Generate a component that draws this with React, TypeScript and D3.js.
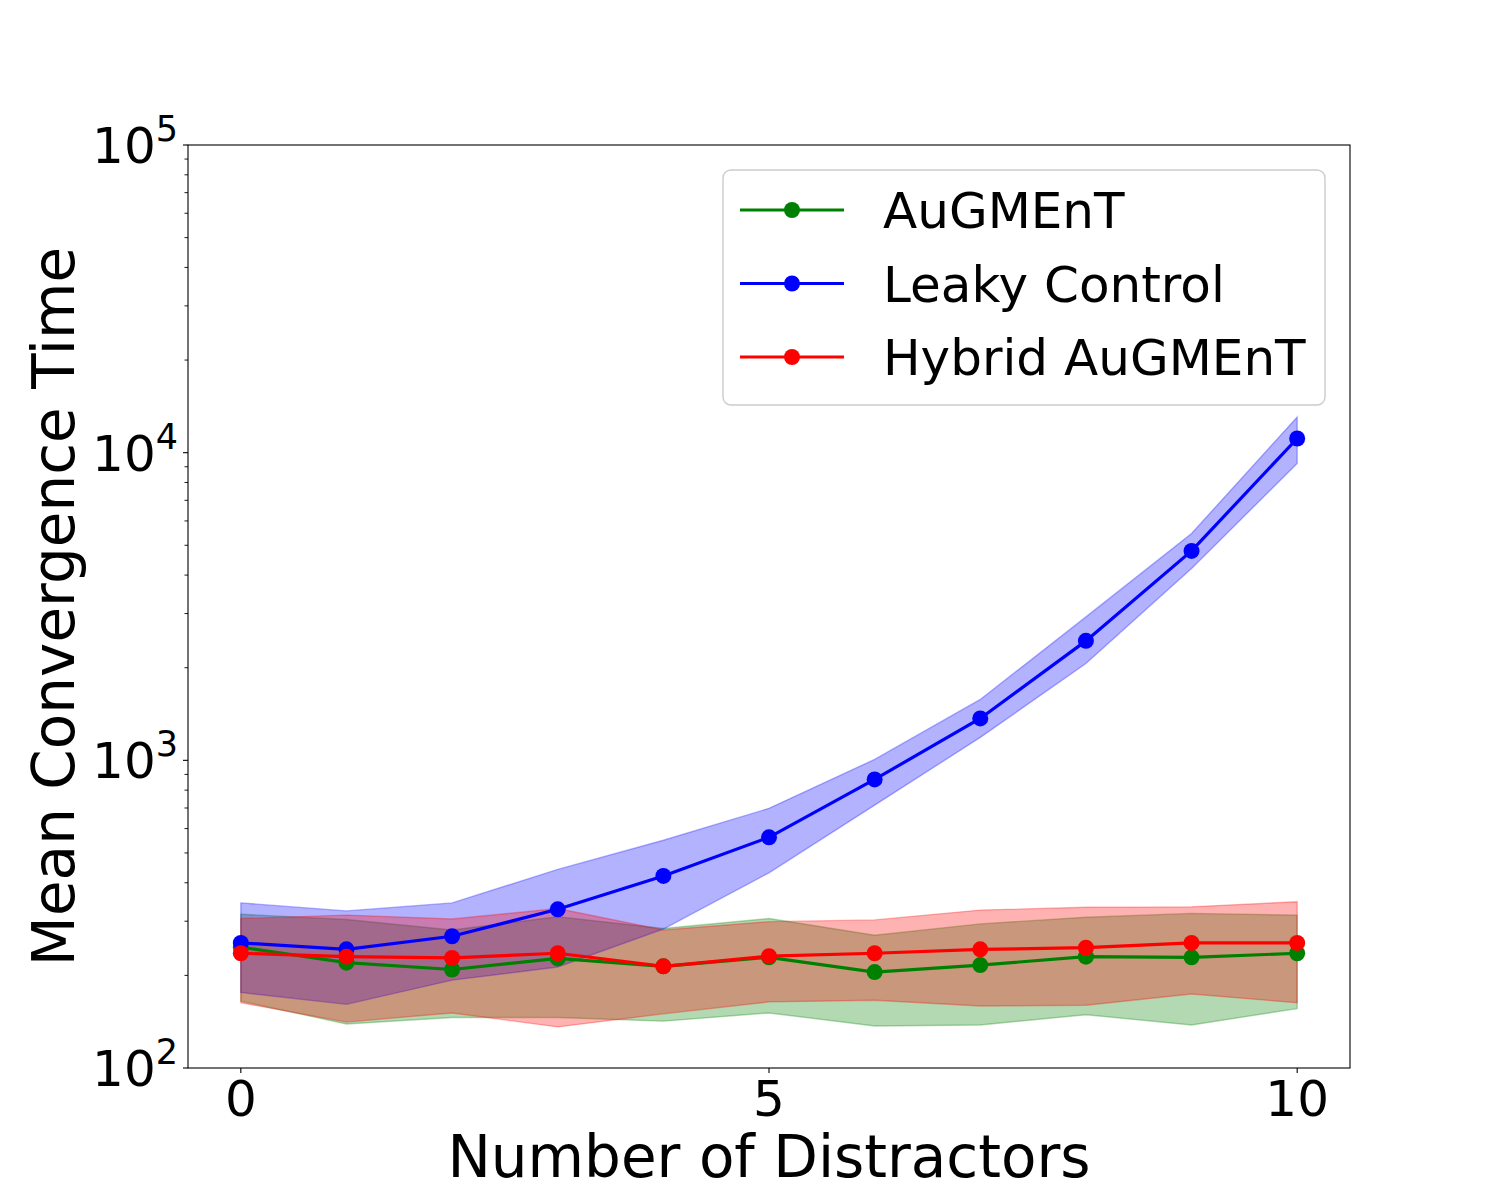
import React from "react";
import * as d3 from "d3";

// distractor counts
const distractors = [0, 1, 2, 3, 4, 5, 6, 7, 8, 9, 10];

// AuGMEnT
const augment = [247, 220, 209, 227, 214, 229, 205, 216, 230, 229, 236];
const augmentLow = [165, 139, 146, 146, 142, 151, 137, 138, 149, 138, 156];
const augmentHigh = [316, 304, 281, 310, 284, 306, 270, 294, 309, 318, 314];

// Leaky Control
const leaky = [255, 243, 268, 328, 421, 562, 867, 1368, 2445, 4795, 11120];
const leakyLow = [176, 161, 193, 213, 283, 431, 715, 1187, 2064, 4204, 9218];
const leakyHigh = [344, 324, 344, 442, 550, 698, 1007, 1577, 2926, 5460, 13060];

// Hybrid AuGMEnT
const hybrid = [236, 230, 228, 236, 214, 231, 236, 243, 246, 255, 255];
const hybridLow = [163, 141, 151, 136, 150, 164, 166, 159, 160, 174, 163];
const hybridHigh = [306, 314, 305, 330, 281, 299, 303, 326, 333, 334, 347];

const xTicks = [0, 5, 10];
const yTickExps = [2, 3, 4, 5];

const W = 1500;
const H = 1200;
const left = 188;
const right = 1350;
const top = 145;
const bottom = 1068;
const FONT = "DejaVu Sans";

const series = [
  { name: "AuGMEnT", color: "#008000", mean: augment, lo: augmentLow, hi: augmentHigh },
  { name: "Leaky Control", color: "#0000ff", mean: leaky, lo: leakyLow, hi: leakyHigh },
  { name: "Hybrid AuGMEnT", color: "#ff0000", mean: hybrid, lo: hybridLow, hi: hybridHigh },
];

export default function App() {
  const x = d3.scaleLinear().domain([-0.5, 10.5]).range([left, right]);
  const y = d3.scaleLog().domain([100, 100000]).range([bottom, top]);

  const line = d3
    .line<number>()
    .x((_, i) => x(distractors[i]))
    .y((d) => y(d));

  const minorTicks: number[] = [];
  for (let e = 2; e < 5; e++) {
    for (let m = 2; m <= 9; m++) minorTicks.push(m * Math.pow(10, e));
  }

  return (
    <div style={{ position: "absolute", left: 0, top: 0 }}>
      <svg width={W} height={H} style={{ display: "block", background: "#fff" }} fontFamily={FONT}>
        {/* bands */}
        {series.map((s) => {
          const area = d3
            .area<number>()
            .x((_, i) => x(distractors[i]))
            .y0((_, i) => y(s.lo[i]))
            .y1((_, i) => y(s.hi[i]));
          return (
            <path
              key={s.name + "-band"}
              d={area(s.mean) || ""}
              fill={s.color}
              fillOpacity={0.3}
              stroke={s.color}
              strokeOpacity={0.3}
              strokeWidth={1.4}
            />
          );
        })}
        {/* lines */}
        {series.map((s) => (
          <g key={s.name + "-line"}>
            <path d={line(s.mean) || ""} fill="none" stroke={s.color} strokeWidth={3.2} />
            {s.mean.map((v, i) => (
              <circle key={i} cx={x(distractors[i])} cy={y(v)} r={8} fill={s.color} />
            ))}
          </g>
        ))}

        {/* axes frame */}
        <rect x={left} y={top} width={right - left} height={bottom - top} fill="none" stroke="#000" strokeWidth={1.1} />

        {/* x ticks */}
        {xTicks.map((t) => (
          <g key={"x" + t}>
            <line x1={x(t)} x2={x(t)} y1={bottom} y2={bottom + 5} stroke="#000" strokeWidth={1.1} />
            <text x={x(t)} y={1116} fontSize={50} textAnchor="middle">
              {t}
            </text>
          </g>
        ))}

        {/* y ticks */}
        {minorTicks.map((t) => (
          <line key={"m" + t} x1={left - 3.5} x2={left} y1={y(t)} y2={y(t)} stroke="#000" strokeWidth={0.9} />
        ))}
        {yTickExps.map((e) => {
          const yy = y(Math.pow(10, e));
          return (
            <g key={"y" + e}>
              <line x1={left - 5} x2={left} y1={yy} y2={yy} stroke="#000" strokeWidth={1.1} />
              <text x={178} y={yy + 18} fontSize={50} textAnchor="end">
                10
                <tspan fontSize={35} dy={-22}>
                  {e}
                </tspan>
              </text>
            </g>
          );
        })}

        {/* axis labels */}
        <text x={769} y={1177} fontSize={58} textAnchor="middle">
          Number of Distractors
        </text>
        <text
          transform={`translate(74, ${(top + bottom) / 2}) rotate(-90)`}
          fontSize={58}
          textAnchor="middle"
        >
          Mean Convergence Time
        </text>

        {/* legend */}
        <rect x={723} y={170} width={602} height={235} rx={8} fill="#fff" fillOpacity={0.8} stroke="#cccccc" strokeWidth={1.4} />
        {series.map((s, i) => {
          const ly = 210 + i * 73.5;
          return (
            <g key={s.name + "-legend"}>
              <line x1={740} x2={844} y1={ly} y2={ly} stroke={s.color} strokeWidth={3.2} />
              <circle cx={792} cy={ly} r={8} fill={s.color} />
              <text x={883} y={ly + 18} fontSize={50}>
                {s.name}
              </text>
            </g>
          );
        })}
      </svg>
    </div>
  );
}
